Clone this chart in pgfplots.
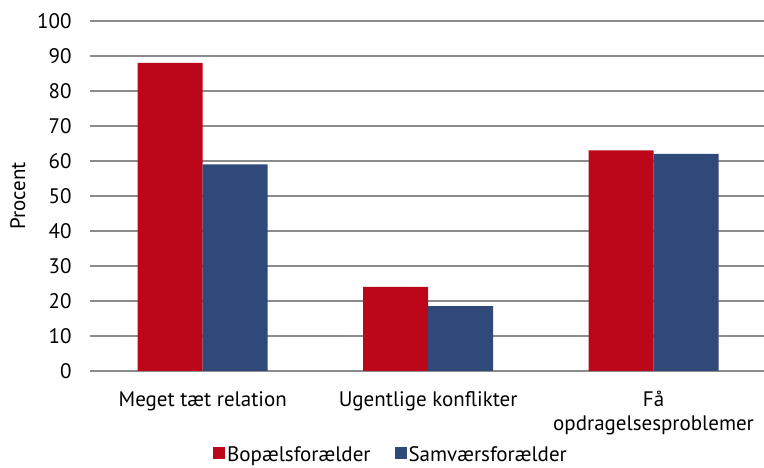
\documentclass[border=0pt]{standalone}
\usepackage{fontspec}
\setmainfont{PT Sans}
\usepackage{pgfplots}
\pgfplotsset{compat=1.18}
\definecolor{cred}{HTML}{BC0619}
\definecolor{cblue}{HTML}{2F4A78}
\definecolor{cgrid}{HTML}{8C8C8C}
\begin{document}
\begin{tikzpicture}
\path[use as bounding box] (0,0) rectangle (764pt,468pt);
\begin{axis}[
  at={(90pt,97pt)}, anchor=south west,
  scale only axis, width=674pt, height=350pt,
  xmin=-0.5, xmax=2.49, ymin=0, ymax=100,
  ytick={0,10,...,100},
  xtick={0,1,2},
  xticklabels={Meget tæt relation, Ugentlige konflikter, {Få\\opdragelsesproblemer}},
  xticklabel style={align=center, anchor=north, yshift=-17pt},
  yticklabel style={anchor=east, xshift=-15pt},
  major tick length=0pt,
  axis x line*=bottom, axis y line*=left,
  y axis line style={draw=none},
  x axis line style={draw=cgrid, line width=1.2pt, -},
  ymajorgrids, grid style={draw=cgrid, line width=1.2pt},
  /pgf/number format/assume math mode=true,
  font=\fontsize{21}{24}\selectfont,
  ylabel={Procent},
  every axis y label/.style={at={(axis description cs:-0.107,0.5)}, rotate=90, anchor=center},
  ybar, bar width=65pt,
  legend columns=2,
  legend style={at={(axis description cs:0.4466,-0.24)}, anchor=center, draw=none, fill=none,
    inner sep=0pt, outer sep=0pt,
    /tikz/every even column/.append style={column sep=22pt}, font=\fontsize{21}{24}\selectfont},
  legend image code/.code={\fill[#1] (0pt,-4pt) rectangle (12pt,8pt);},
]
\addplot[fill=cred, draw=none, bar shift=-32.5pt] coordinates {(0,88) (1,24) (2,63)};
\addplot[fill=cblue, draw=none, bar shift=32.5pt] coordinates {(0,59) (1,18.5) (2,62)};
\legend{Bopælsforælder, Samværsforælder}
\end{axis}
\end{tikzpicture}
\end{document}
